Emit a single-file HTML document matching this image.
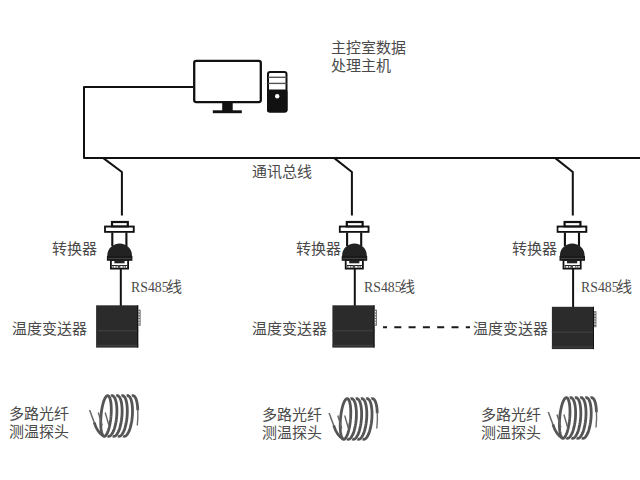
<!DOCTYPE html>
<html lang="zh-CN">
<head>
<meta charset="utf-8">
<style>
html,body{margin:0;padding:0;background:#fff;}
body{width:640px;height:480px;position:relative;overflow:hidden;font-family:"Liberation Serif",serif;}
.rs{transform:scaleX(0.92);transform-origin:0 0;}
.t{position:absolute;font-size:15px;line-height:18px;color:#4a4a4a;white-space:nowrap;}
svg{position:absolute;left:0;top:0;}
</style>
</head>
<body>
<svg width="640" height="480" viewBox="0 0 640 480">
  <defs>
    <g id="conv">
      <!-- converter icon in absolute coords of converter 1 -->
      <g fill="none" stroke="#111">
        <rect x="112" y="222" width="15.8" height="4.6" stroke-width="2.2"/>
        <rect x="105.1" y="226.6" width="28.6" height="5.2" stroke-width="2"/>
        <path d="M112.3 232.5 V246 M126.4 232.5 V246" stroke-width="2.1"/>
        <rect x="110.9" y="260" width="17.2" height="8.6" stroke-width="1.8"/>
      </g>
      <rect x="105.9" y="227.8" width="26.6" height="3.1" fill="#fff"/>
      <path d="M107.3 256.5 V255.5 A12.35 12.1 0 0 1 132 255.5 V256.5 Z" fill="#222"/>
      <rect x="106.9" y="256" width="25.5" height="4.8" fill="#1a1a1a"/>
      <rect x="108" y="258" width="23.3" height="0.7" fill="#555"/>
      <rect x="114.4" y="260.5" width="10.2" height="2.8" fill="#222"/>
      <path d="M112 265.5 H127.5" stroke="#222" stroke-width="1"/>
      <path d="M113.1 265.5 V267.8 M116 265.5 V267.8 M123.2 265.5 V267.8 M125.3 265.5 V267.8" stroke="#333" stroke-width="0.9"/>
      <rect x="117.8" y="265" width="2.6" height="2.8" fill="#444"/>
    </g>
    <g id="box">
      <rect x="96.1" y="305.3" width="42.1" height="42.3" fill="#2b2b2b"/>
      <rect x="96.1" y="330" width="42.1" height="1.4" fill="#3c3c3c"/>
      <rect x="96.1" y="344.8" width="42.1" height="1.4" fill="#3e3e3e"/>
      <rect x="137.2" y="305.3" width="1" height="42.3" fill="#111"/>
      <rect x="138.2" y="309.7" width="2.4" height="16" fill="#666"/>
      <path d="M139.2 311 V325" stroke="#eee" stroke-width="1.1" stroke-dasharray="1.6 1.1"/>
    </g>
    <g id="coil" fill="none" stroke-linecap="butt">
      <g id="loops">
<path d="M110.98 416.44 L110.81 418.21 L110.60 419.96 L110.35 421.68 L110.07 423.36 L109.76 424.98 L109.42 426.54 L109.06 428.01 L108.67 429.40 L108.26 430.68 L107.84 431.85 L107.40 432.90 L106.95 433.82 L106.49 434.60 L106.03 435.25 L105.57 435.74 L105.11 436.09 L104.66 436.28 L104.22 436.32 L103.79 436.21 L103.38 435.94 L102.99 435.52 L102.63 434.95 L102.28 434.23 L101.97 433.38 L101.69 432.40 L101.44 431.29 L101.22 430.06 L101.04 428.73 L100.90 427.30 L100.80 425.78 L100.73 424.19 L100.71 422.54 L100.73 420.84 L100.79 419.10 L100.88 417.34 L101.02 415.56 L101.19 413.79 L101.40 412.04 L101.65 410.32 L101.93 408.64 L102.24 407.02 L102.58 405.46 L102.94 403.99 L103.33 402.60 L103.74 401.32 L104.16 400.15 L104.60 399.10 L105.05 398.18 L105.51 397.40 L105.97 396.75 L106.43 396.26 L106.89 395.91 L107.34 395.72 L107.78 395.68 L108.21 395.79 L108.62 396.06 L109.01 396.48 L109.37 397.05 L109.72 397.77 L110.03 398.62 L110.31 399.60 L110.56 400.71 L110.78 401.94 L110.96 403.27 L111.10 404.70 L111.20 406.22 L111.27 407.81 L111.29 409.46 L111.27 411.16 L111.21 412.90 L111.12 414.66 L110.98 416.44" stroke="#555" stroke-width="2.8"/>
<path d="M89.6 410 L94.6 423.5" stroke="#666" stroke-width="1.5"/>
<path d="M94.2 422.5 Q97.5 433 104 436.3" stroke="#555" stroke-width="2.6"/>
<path d="M98.3 412.5 L102.2 425.5" stroke="#666" stroke-width="1.4"/>
<path d="M105.2 412.5 L108.8 425" stroke="#666" stroke-width="1.4"/>
<path d="M111.06 395.89 L111.69 395.70 L112.30 395.69 L112.89 395.88 L113.47 396.25 L114.01 396.82 L114.52 397.56 L114.99 398.47 L115.42 399.55 L115.80 400.79 L116.13 402.16 L116.40 403.67 L116.62 405.29 L116.78 407.01 L116.88 408.82 L116.92 410.70 L116.90 412.62 L116.82 414.58 L116.68 416.55 L116.47 418.51 L116.22 420.46 L115.90 422.35 L115.54 424.19 L115.12 425.96 L114.67 427.63 L114.17 429.19 L113.64 430.62 L113.07 431.92 L112.48 433.07 L111.88 434.06 L111.25 434.88 L110.62 435.52 L109.99 435.98 L109.36 436.25 L108.74 436.33 L108.14 436.22 L107.56 435.92" stroke="#fff" stroke-width="5.0"/>
<path d="M111.06 395.89 L111.69 395.70 L112.30 395.69 L112.89 395.88 L113.47 396.25 L114.01 396.82 L114.52 397.56 L114.99 398.47 L115.42 399.55 L115.80 400.79 L116.13 402.16 L116.40 403.67 L116.62 405.29 L116.78 407.01 L116.88 408.82 L116.92 410.70 L116.90 412.62 L116.82 414.58 L116.68 416.55 L116.47 418.51 L116.22 420.46 L115.90 422.35 L115.54 424.19 L115.12 425.96 L114.67 427.63 L114.17 429.19 L113.64 430.62 L113.07 431.92 L112.48 433.07 L111.88 434.06 L111.25 434.88 L110.62 435.52 L109.99 435.98 L109.36 436.25 L108.74 436.33 L108.14 436.22 L107.56 435.92" stroke="#555" stroke-width="2.8"/>
<path d="M116.26 395.89 L116.89 395.70 L117.50 395.69 L118.09 395.88 L118.67 396.25 L119.21 396.82 L119.72 397.56 L120.19 398.47 L120.62 399.55 L121.00 400.79 L121.33 402.16 L121.60 403.67 L121.82 405.29 L121.98 407.01 L122.08 408.82 L122.12 410.70 L122.10 412.62 L122.02 414.58 L121.88 416.55 L121.67 418.51 L121.42 420.46 L121.10 422.35 L120.74 424.19 L120.32 425.96 L119.87 427.63 L119.37 429.19 L118.84 430.62 L118.27 431.92 L117.68 433.07 L117.08 434.06 L116.45 434.88 L115.82 435.52 L115.19 435.98 L114.56 436.25 L113.94 436.33 L113.34 436.22 L112.76 435.92" stroke="#fff" stroke-width="5.0"/>
<path d="M116.26 395.89 L116.89 395.70 L117.50 395.69 L118.09 395.88 L118.67 396.25 L119.21 396.82 L119.72 397.56 L120.19 398.47 L120.62 399.55 L121.00 400.79 L121.33 402.16 L121.60 403.67 L121.82 405.29 L121.98 407.01 L122.08 408.82 L122.12 410.70 L122.10 412.62 L122.02 414.58 L121.88 416.55 L121.67 418.51 L121.42 420.46 L121.10 422.35 L120.74 424.19 L120.32 425.96 L119.87 427.63 L119.37 429.19 L118.84 430.62 L118.27 431.92 L117.68 433.07 L117.08 434.06 L116.45 434.88 L115.82 435.52 L115.19 435.98 L114.56 436.25 L113.94 436.33 L113.34 436.22 L112.76 435.92" stroke="#555" stroke-width="2.8"/>
<path d="M121.46 395.89 L122.09 395.70 L122.70 395.69 L123.29 395.88 L123.87 396.25 L124.41 396.82 L124.92 397.56 L125.39 398.47 L125.82 399.55 L126.20 400.79 L126.53 402.16 L126.80 403.67 L127.02 405.29 L127.18 407.01 L127.28 408.82 L127.32 410.70 L127.30 412.62 L127.22 414.58 L127.08 416.55 L126.87 418.51 L126.62 420.46 L126.30 422.35 L125.94 424.19 L125.52 425.96 L125.07 427.63 L124.57 429.19 L124.04 430.62 L123.47 431.92 L122.88 433.07 L122.28 434.06 L121.65 434.88 L121.02 435.52 L120.39 435.98 L119.76 436.25 L119.14 436.33 L118.54 436.22 L117.96 435.92" stroke="#fff" stroke-width="5.0"/>
<path d="M121.46 395.89 L122.09 395.70 L122.70 395.69 L123.29 395.88 L123.87 396.25 L124.41 396.82 L124.92 397.56 L125.39 398.47 L125.82 399.55 L126.20 400.79 L126.53 402.16 L126.80 403.67 L127.02 405.29 L127.18 407.01 L127.28 408.82 L127.32 410.70 L127.30 412.62 L127.22 414.58 L127.08 416.55 L126.87 418.51 L126.62 420.46 L126.30 422.35 L125.94 424.19 L125.52 425.96 L125.07 427.63 L124.57 429.19 L124.04 430.62 L123.47 431.92 L122.88 433.07 L122.28 434.06 L121.65 434.88 L121.02 435.52 L120.39 435.98 L119.76 436.25 L119.14 436.33 L118.54 436.22 L117.96 435.92" stroke="#555" stroke-width="2.8"/>
<path d="M126.66 395.89 L127.29 395.70 L127.90 395.69 L128.49 395.88 L129.07 396.25 L129.61 396.82 L130.12 397.56 L130.59 398.47 L131.02 399.55 L131.40 400.79 L131.73 402.16 L132.00 403.67 L132.22 405.29 L132.38 407.01 L132.48 408.82 L132.52 410.70 L132.50 412.62 L132.42 414.58 L132.28 416.55 L132.07 418.51 L131.82 420.46 L131.50 422.35 L131.14 424.19 L130.72 425.96 L130.27 427.63 L129.77 429.19 L129.24 430.62 L128.67 431.92 L128.08 433.07 L127.48 434.06 L126.85 434.88 L126.22 435.52 L125.59 435.98 L124.96 436.25 L124.34 436.33 L123.74 436.22 L123.16 435.92" stroke="#fff" stroke-width="5.0"/>
<path d="M126.66 395.89 L127.29 395.70 L127.90 395.69 L128.49 395.88 L129.07 396.25 L129.61 396.82 L130.12 397.56 L130.59 398.47 L131.02 399.55 L131.40 400.79 L131.73 402.16 L132.00 403.67 L132.22 405.29 L132.38 407.01 L132.48 408.82 L132.52 410.70 L132.50 412.62 L132.42 414.58 L132.28 416.55 L132.07 418.51 L131.82 420.46 L131.50 422.35 L131.14 424.19 L130.72 425.96 L130.27 427.63 L129.77 429.19 L129.24 430.62 L128.67 431.92 L128.08 433.07 L127.48 434.06 L126.85 434.88 L126.22 435.52 L125.59 435.98 L124.96 436.25 L124.34 436.33 L123.74 436.22 L123.16 435.92" stroke="#555" stroke-width="2.8"/>
<path d="M131.86 395.89 L132.12 395.79 L132.37 395.72 L132.63 395.68 L132.88 395.67 L133.13 395.70 L133.38 395.75 L133.62 395.84 L133.86 395.97 L134.09 396.12 L134.32 396.30 L134.55 396.52 L134.77 396.76 L134.98 397.04 L135.19 397.35 L135.39 397.68 L135.59 398.05 L135.78 398.44 L135.96 398.86 L136.13 399.31 L136.30 399.79 L136.45 400.29 L136.60 400.81 L136.74 401.36 L136.88 401.93 L137.00 402.53 L137.11 403.14 L137.22 403.78 L137.31 404.43 L137.40 405.11 L137.48 405.80 L137.54 406.51 L137.60 407.23 L137.64 407.96 L137.68 408.71 L137.70 409.47 L137.72 410.24" stroke="#fff" stroke-width="5.0"/>
<path d="M131.86 395.89 L132.12 395.79 L132.37 395.72 L132.63 395.68 L132.88 395.67 L133.13 395.70 L133.38 395.75 L133.62 395.84 L133.86 395.97 L134.09 396.12 L134.32 396.30 L134.55 396.52 L134.77 396.76 L134.98 397.04 L135.19 397.35 L135.39 397.68 L135.59 398.05 L135.78 398.44 L135.96 398.86 L136.13 399.31 L136.30 399.79 L136.45 400.29 L136.60 400.81 L136.74 401.36 L136.88 401.93 L137.00 402.53 L137.11 403.14 L137.22 403.78 L137.31 404.43 L137.40 405.11 L137.48 405.80 L137.54 406.51 L137.60 407.23 L137.64 407.96 L137.68 408.71 L137.70 409.47 L137.72 410.24" stroke="#555" stroke-width="2.8"/>
<path d="M137.75 409 Q138.2 416 137.3 425.5" stroke="#6a6a6a" stroke-width="1.4"/>
      </g>
    </g>
  </defs>
  <!-- bus network lines -->
  <g fill="none" stroke="#111" stroke-width="2" stroke-linejoin="round">
    <path d="M193 86.9 H84 V157.9 H640"/>
    <path d="M103 157.9 L121.9 172 V215.6"/>
    <path d="M334 157.9 L351.9 172 V215.4"/>
    <path d="M555 157.9 L572.8 172 V215.4"/>
    <path d="M120.8 268 V306"/>
    <path d="M354.8 268 V306"/>
    <path d="M573.1 268 V308"/>
  </g>
  <path d="M383 327.2 H470" stroke="#1a1a1a" stroke-width="2" stroke-dasharray="4 7.3 7 7.3 7 7.3 7 7.3 7 7.3 7 7.3 4.5"/>
  <!-- monitor -->
  <rect x="194.2" y="60.9" width="66.6" height="41.2" rx="2" fill="#fff" stroke="#111" stroke-width="2.3"/>
  <rect x="222.2" y="102.5" width="10.5" height="8.5" fill="#111"/>
  <rect x="212.8" y="110.3" width="29" height="2.9" fill="#111"/>
  <!-- tower -->
  <rect x="268" y="72" width="18.5" height="39.5" rx="2.2" fill="#fff" stroke="#111" stroke-width="2"/>
  <rect x="267" y="89.5" width="20.5" height="23" rx="2.2" fill="#111"/>
  <rect x="268" y="76.6" width="18.5" height="1.4" fill="#555"/>
  <rect x="268" y="82.7" width="18.5" height="1.4" fill="#555"/>
  <circle cx="277.2" cy="96.3" r="2.2" fill="#fff"/>

  <use href="#conv"/>
  <use href="#conv" transform="translate(234.8 0)"/>
  <use href="#conv" transform="translate(452.6 0)"/>
  <use href="#box"/>
  <use href="#box" transform="translate(236.3 0)"/>
  <use href="#box" transform="translate(455.8 1.5)"/>
  <use href="#coil"/>
  <use href="#coil" transform="translate(239.5 3)"/>
  <use href="#coil" transform="translate(458.7 2)"/>
</svg>
<div class="t" style="left:331px;top:39px;">主控室数据<br>处理主机</div>
<div class="t" style="left:251.5px;top:163px;">通讯总线</div>
<div class="t" style="left:52px;top:239.5px;">转换器</div>
<div class="t" style="left:296px;top:239.5px;">转换器</div>
<div class="t" style="left:512px;top:239.5px;">转换器</div>
<div class="t rs" style="left:131px;top:278px;">RS485</div><div class="t" style="left:167px;top:278px;">线</div>
<div class="t rs" style="left:364px;top:278px;">RS485</div><div class="t" style="left:400px;top:278px;">线</div>
<div class="t rs" style="left:581px;top:278px;">RS485</div><div class="t" style="left:617px;top:278px;">线</div>
<div class="t" style="left:12px;top:320px;">温度变送器</div>
<div class="t" style="left:252px;top:320px;">温度变送器</div>
<div class="t" style="left:473px;top:320px;">温度变送器</div>
<div class="t" style="left:9px;top:405px;">多路光纤<br>测温探头</div>
<div class="t" style="left:262px;top:406px;">多路光纤<br>测温探头</div>
<div class="t" style="left:481px;top:406px;">多路光纤<br>测温探头</div>
</body>
</html>
